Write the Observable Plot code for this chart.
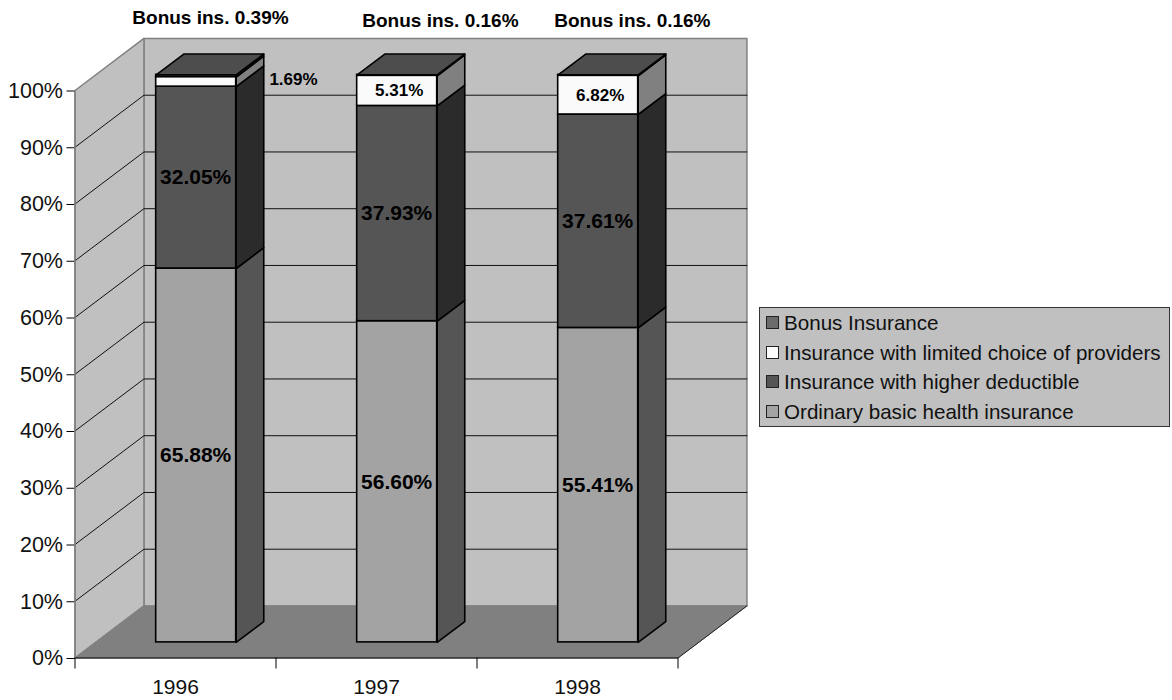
<!DOCTYPE html>
<html>
<head>
<meta charset="utf-8">
<script src="https://cdn.jsdelivr.net/npm/d3@7"></script>
<script src="https://cdn.jsdelivr.net/npm/@observablehq/plot@0.6"></script>
<style>
  html, body { margin: 0; padding: 0; background: #fff; }
  #wrap { position: relative; width: 1172px; height: 700px; font-family: "Liberation Sans", Arial, sans-serif; overflow: hidden; }
  #wrap svg { display: block; }
  #legend { position: absolute; left: 759px; top: 307px; width: 409px; height: 118px; box-sizing: content-box;
            background: #c0c0c0; border: 1px solid #333; }
  #legend .row { position: absolute; left: 0; height: 30px; line-height: 30px; font-size: 20.6px; color: #111; white-space: nowrap; }
  #legend .sw { position: absolute; left: 6px; top: 8px; width: 11px; height: 11px; border: 1.5px solid #222; }
  #legend .tx { position: absolute; left: 24px; top: 0; }
</style>
</head>
<body>
<div id="wrap"></div>
<script>
// ---- data ----
const years = ["1996", "1997", "1998"];
const ordinary = [65.88, 56.60, 55.41];
const deductible = [32.05, 37.93, 37.61];
const limited = [1.69, 5.31, 6.82];
const bonus = [0.39, 0.16, 0.16];
const yTicks = [0, 10, 20, 30, 40, 50, 60, 70, 80, 90, 100];
const legendLabels = ["Bonus Insurance", "Insurance with limited choice of providers", "Insurance with higher deductible", "Ordinary basic health insurance"];
const bonusLabels = ["Bonus ins. 0.39%", "Bonus ins. 0.16%", "Bonus ins. 0.16%"];

// ---- styles ----
const seriesColors = [
  {front: "#a3a3a3", side: "#555555"},
  {front: "#555555", side: "#2b2b2b"},
  {front: "#fafafa", side: "#808080"},
  {front: "#666666", side: "#333333"}
];
const legendColors = ["#6b6b6b", "#fafafa", "#555555", "#a3a3a3"];
const topColor = "#4d4d4d";

// ---- oblique projection, in scale units ----
const depthX = 0.343, depthY = 9.17;        // one full chart depth
const project = (x, v, z) => [x + z * depthX, v + z * depthY];
const barZ0 = 0.30, barZ1 = 0.70, barStart = 0.301, barWidth = 0.398;

const polys = (list, opts) => Plot.line(
  list.flatMap((pts, id) => pts.map(p => ({x: p[0], y: p[1], id}))),
  {x: "x", y: "y", z: "id", curve: "linear-closed", ...opts}
);
const path = (list, opts) => Plot.line(
  list.flatMap((pts, id) => pts.map(p => ({x: p[0], y: p[1], id}))),
  {x: "x", y: "y", z: "id", ...opts}
);

// ---- segments ----
const series = [ordinary, deductible, limited, bonus];
const segments = [];
years.forEach((year, i) => {
  let base = 0;
  series.forEach((vals, s) => {
    segments.push({i, s, year, y1: base, y2: base + vals[i], value: vals[i]});
    base += vals[i];
  });
});
const frontPt = (d, v, z, right) => project(d.i + barStart + (right ? barWidth : 0), v, z);
const sidePoly = d => [frontPt(d, d.y1, barZ0, true), frontPt(d, d.y1, barZ1, true), frontPt(d, d.y2, barZ1, true), frontPt(d, d.y2, barZ0, true)];
const tops = years.map((y, i) => {
  const d = {i}, v = segments.filter(t => t.i === i).at(-1).y2;
  return [frontPt(d, v, barZ0, false), frontPt(d, v, barZ0, true), frontPt(d, v, barZ1, true), frontPt(d, v, barZ1, false)];
});

// in-bar labels
const barLabels = segments.filter(d => d.s < 3 && !(d.s === 2 && d.value < 2)).map(d => {
  const p = project(d.i + barStart + barWidth / 2, (d.y1 + d.y2) / 2, barZ0);
  return {x: p[0], y: p[1], s: d.s, text: d.value.toFixed(2) + "%"};
});
// callout labels outside the bars
const bonusX = [0.674, 1.818, 2.773], bonusY = [112.8, 112.3, 112.3];
const calloutBonus = bonusLabels.map((text, i) => ({x: bonusX[i], y: bonusY[i], text}));
const calloutLimited = [{x: 1.087, y: 102, text: limited[0].toFixed(2) + "%"}];

const wallGray = "#808080";
const gridTicks = yTicks.slice(1, -1);

const chart = Plot.plot({
  width: 1172, height: 700,
  marginLeft: 74.5, marginRight: 494.5, marginTop: 90, marginBottom: 42.5,
  style: {background: "transparent", fontFamily: '"Liberation Sans", Arial, sans-serif', color: "#000", overflow: "visible"},
  x: {domain: [0, 3], axis: null},
  y: {domain: [0, 100], axis: null},
  marks: [
    // back wall
    polys([[project(0, 0, 1), project(3, 0, 1), project(3, 100, 1), project(0, 100, 1)]],
          {fill: "#c0c0c0", stroke: wallGray, strokeWidth: 1.5}),
    // side wall
    polys([[project(0, 0, 0), project(0, 0, 1), project(0, 100, 1), project(0, 100, 0)]],
          {fill: "#c0c0c0", stroke: wallGray, strokeWidth: 1.5}),
    // floor
    polys([[project(0, 0, 0), project(3, 0, 0), project(3, 0, 1), project(0, 0, 1)]],
          {fill: "#808080", stroke: wallGray, strokeWidth: 1}),
    // grid lines
    path(gridTicks.map(t => [project(0, t, 0), project(0, t, 1), project(3, t, 1)]),
         {stroke: "#111", strokeWidth: 1}),
    // floor right edge
    path([[project(3, 0, 0), project(3, 0, 1)]], {stroke: "#222", strokeWidth: 1}),
    // axes
    Plot.axisY({ticks: yTicks, tickSize: 8, tickPadding: 4, fontSize: 21.5, label: null, tickFormat: d => d + "%", stroke: "#000", fill: "#111", dy: 0.5}),
    Plot.axisX({ticks: [0, 1, 2, 3], tickSize: 11, tickFormat: () => "", label: null, stroke: "#000"}),
    Plot.ruleY([0], {stroke: "#000", strokeWidth: 1.2}),
    Plot.ruleX([0], {stroke: wallGray, strokeWidth: 1.5}),
    Plot.axisX({ticks: [0.5, 1.5, 2.5], tickSize: 0, tickPadding: 21, fontSize: 21, label: null, fill: "#111", tickFormat: d => years[Math.floor(d)]}),
    // bars: sides, fronts, tops
    ...seriesColors.map((c, s) => polys(segments.filter(d => d.s === s).map(sidePoly), {fill: c.side, stroke: "#000", strokeWidth: 1.6})),
    ...seriesColors.map((c, s) => Plot.rect(segments.filter(d => d.s === s), {
      x1: d => project(d.i + barStart, 0, barZ0)[0],
      x2: d => project(d.i + barStart + barWidth, 0, barZ0)[0],
      y1: d => project(0, d.y1, barZ0)[1],
      y2: d => project(0, d.y2, barZ0)[1],
      fill: c.front, stroke: "#000", strokeWidth: 1.6
    })),
    polys(tops, {fill: topColor, stroke: "#000", strokeWidth: 1.6}),
    // labels
    Plot.text(barLabels.filter(d => d.s < 2), {x: "x", y: "y", text: "text", fontSize: 21, fontWeight: "bold", fill: "#000", dx: -0.5}),
    Plot.text(barLabels.filter(d => d.s === 2), {x: "x", y: "y", text: "text", fontSize: 17, fontWeight: "bold", fill: "#000", dx: 2}),
    Plot.text(calloutBonus, {x: "x", y: "y", text: "text", fontSize: 19, fontWeight: "bold", fill: "#000"}),
    Plot.text(calloutLimited, {x: "x", y: "y", text: "text", fontSize: 17, fontWeight: "bold", fill: "#000"})
  ]
});

const wrap = document.getElementById("wrap");
wrap.appendChild(chart);

const legend = document.createElement("div");
legend.id = "legend";
legendLabels.forEach((label, i) => {
  const row = document.createElement("div");
  row.className = "row";
  row.style.top = (0 + i * 29.6) + "px";
  const sw = document.createElement("span");
  sw.className = "sw";
  sw.style.background = legendColors[i];
  const tx = document.createElement("span");
  tx.className = "tx";
  tx.textContent = label;
  row.append(sw, tx);
  legend.appendChild(row);
});
wrap.appendChild(legend);
</script>
</body>
</html>
